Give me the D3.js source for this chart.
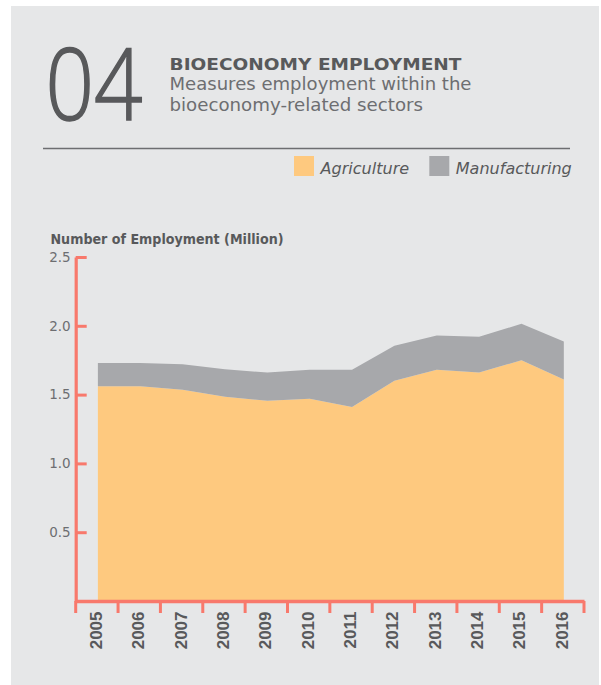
<!DOCTYPE html>
<html>
<head>
<meta charset="utf-8">
<script src="https://cdn.jsdelivr.net/npm/d3@7"></script>
<style>
  body { margin: 0; background: #fff; }
  svg { display: block; }
</style>
</head>
<body>
<div id="chart"></div>
<script>
// values (million)
const years = ["2005", "2006", "2007", "2008", "2009", "2010", "2011", "2012", "2013", "2014", "2015", "2016"]
const agriculture = [1.56, 1.56, 1.535, 1.485, 1.455, 1.47, 1.41, 1.60, 1.68, 1.66, 1.75, 1.61]
const manufacturing = [0.17, 0.17, 0.185, 0.20, 0.205, 0.21, 0.27, 0.255, 0.25, 0.26, 0.265, 0.275]
const yTicks = [0.5, 1.0, 1.5, 2.0, 2.5]
const seriesNames = ["Agriculture", "Manufacturing"]

const width = 601, height = 685
const red = "#f8796c"
const colors = { agriculture: "#fec97f", manufacturing: "#a7a8ab" }

const svg = d3.select("#chart").append("svg")
  .attr("width", width)
  .attr("height", height)

// panel
svg.append("rect")
  .attr("x", 11).attr("y", 6)
  .attr("width", 588).attr("height", 679)
  .attr("fill", "#e6e7e8")

// header
svg.append("text")
  .attr("x", 45.5).attr("y", 119.5)
  .attr("font-family", "'Open Sans', Lato, sans-serif")
  .attr("font-weight", 300)
  .attr("font-size", 99)
  .attr("textLength", 97)
  .attr("lengthAdjust", "spacingAndGlyphs")
  .attr("fill", "#58595b")
  .attr("stroke", "#58595b")
  .attr("stroke-width", 1.6)
  .text("04")

svg.append("text")
  .attr("x", 169.5).attr("y", 70)
  .attr("font-family", "'DejaVu Sans', sans-serif")
  .attr("font-weight", "bold")
  .attr("font-size", 16.5)
  .attr("textLength", 292)
  .attr("lengthAdjust", "spacingAndGlyphs")
  .attr("fill", "#58595b")
  .text("BIOECONOMY EMPLOYMENT")

let subLines = [
  { text: "Measures employment within the", y: 90, w: 302 },
  { text: "bioeconomy-related sectors", y: 110.5, w: 253.5 },
]
svg.selectAll(".sub").data(subLines).enter().append("text")
  .attr("class", "sub")
  .attr("x", 169.5)
  .attr("y", d => d.y)
  .attr("font-family", "'DejaVu Sans', sans-serif")
  .attr("font-size", 17)
  .attr("textLength", d => d.w)
  .attr("lengthAdjust", "spacingAndGlyphs")
  .attr("fill", "#6d6e71")
  .text(d => d.text)

svg.append("line")
  .attr("x1", 43).attr("x2", 570)
  .attr("y1", 148.5).attr("y2", 148.5)
  .attr("stroke", "#6d6e71")
  .attr("stroke-width", 1.5)

// legend
let legend = [
  { name: seriesNames[0], color: colors.agriculture, x: 294, w: 88.6 },
  { name: seriesNames[1], color: colors.manufacturing, x: 429.3, w: 116 },
]
let lg = svg.selectAll(".legend").data(legend).enter().append("g")
  .attr("class", "legend")
  .attr("transform", d => `translate(${d.x},156)`)
lg.append("rect")
  .attr("width", 20).attr("height", 20)
  .attr("fill", d => d.color)
lg.append("text")
  .attr("x", 26.5).attr("y", 18)
  .attr("font-family", "'DejaVu Sans', sans-serif")
  .attr("font-style", "italic")
  .attr("font-size", 15)
  .attr("textLength", d => d.w)
  .attr("lengthAdjust", "spacingAndGlyphs")
  .attr("fill", "#58595b")
  .text(d => d.name)

// scales
const x = d3.scaleBand().domain(years).range([75.7, 584])
const y = d3.scaleLinear().domain([0, 2.5]).range([601, 257])

// stacked areas
let table = years.map((yr, i) => ({ year: yr, agriculture: agriculture[i], manufacturing: manufacturing[i] }))
let stack = d3.stack().keys(["agriculture", "manufacturing"])(table)

let area = d3.area()
  .x(d => x(d.data.year) + x.bandwidth() / 2 + 1)
  .y0(d => y(d[0]))
  .y1(d => y(d[1]))

svg.append("g").selectAll("path")
  .data(stack).enter().append("path")
    .attr("d", area)
    .attr("fill", d => colors[d.key])

// y axis
let yAxis = svg.append("g")
  .attr("transform", "translate(75.7,0)")
  .call(d3.axisLeft(y).tickValues(yTicks).tickFormat(d3.format(".1f")).tickSizeInner(-11).tickSizeOuter(0).tickPadding(5))
yAxis.select(".domain").attr("stroke", red).attr("stroke-width", 3.2)
yAxis.selectAll(".tick line").attr("stroke", red).attr("stroke-width", 3)
yAxis.selectAll(".tick text")
  .attr("font-family", "'DejaVu Sans', sans-serif")
  .attr("font-size", 13.5)
  .attr("fill", "#6d6e71")

svg.append("text")
  .attr("x", 50.5).attr("y", 244)
  .attr("font-family", "'DejaVu Sans', sans-serif")
  .attr("font-weight", "bold")
  .attr("font-size", 13.5)
  .attr("textLength", 233)
  .attr("lengthAdjust", "spacingAndGlyphs")
  .attr("fill", "#58595b")
  .text("Number of Employment (Million)")

// x axis
let xAxis = svg.append("g")
  .attr("transform", "translate(0,601)")
  .call(d3.axisBottom(x).tickSize(0).tickSizeOuter(0))
xAxis.select(".domain").attr("stroke", red).attr("stroke-width", 3.5)
xAxis.selectAll(".tick text")
  .attr("transform", "rotate(-90)")
  .attr("x", -10.5)
  .attr("y", -1)
  .attr("dy", "0.35em")
  .attr("text-anchor", "end")
  .attr("font-family", "'Liberation Sans', Arial, sans-serif")
  .attr("font-weight", "bold")
  .attr("font-size", 17)
  .attr("fill", "#58595b")

// ticks sit on the band edges
let edges = years.map(d => x(d)).concat([x.range()[1]])
xAxis.selectAll(".edge").data(edges).enter().append("line")
  .attr("class", "edge")
  .attr("x1", d => d).attr("x2", d => d)
  .attr("y1", 0).attr("y2", 12)
  .attr("stroke", red)
  .attr("stroke-width", 3)
</script>
</body>
</html>
